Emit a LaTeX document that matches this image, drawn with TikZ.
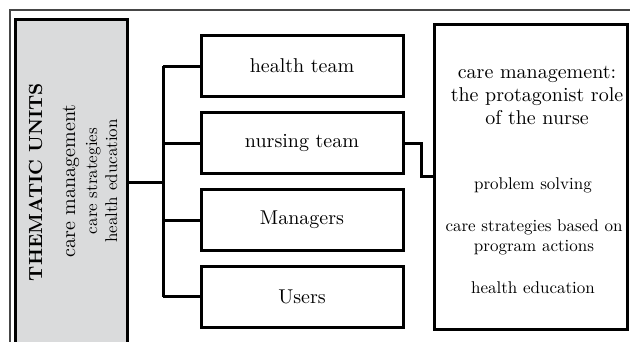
\documentclass[tikz,border=0pt]{standalone}
\usepackage{fontspec}
\setmainfont{lmroman10-regular.otf}[BoldFont=lmroman10-bold.otf]
\definecolor{boxgray}{RGB}{218,219,220}
\definecolor{framegray}{RGB}{70,70,70}
\tikzset{
  thick box/.style={draw=black, line width=3pt, inner sep=0pt},
  midbox/.style={thick box, minimum width=202, minimum height=61, font=\fontsize{20}{24}\selectfont},
  conn/.style={draw=black, line width=3pt},
  bigtxt/.style={inner sep=0pt, font=\fontsize{20}{23}\selectfont, align=center},
  smalltxt/.style={inner sep=0pt, font=\fontsize{17}{20}\selectfont, align=center},
}
\begin{document}
\begin{tikzpicture}[x=1pt,y=-1pt]
\useasboundingbox (0,0) rectangle (630,341);
\clip (0,0) rectangle (630,341);
% outer frame
\draw[framegray, line width=1.2pt] (10,345) -- (10,10) -- (632,10);
% thematic units box
\node[thick box, fill=boxgray, minimum width=112, minimum height=326] (tu) at (71,182) {};
\node[rotate=90, anchor=base, inner sep=0pt, font=\fontsize{19}{22}\selectfont\bfseries] (t1) at (42,182) {THEMATIC UNITS};
\node[rotate=90, anchor=base, inner sep=0pt, font=\fontsize{20}{24}\selectfont] (t2) at (75,181) {care management};
\node[rotate=90, anchor=base, inner sep=0pt, font=\fontsize{17}{20}\selectfont] (t3) at (97,181) {care strategies};
\node[rotate=90, anchor=base, inner sep=0pt, font=\fontsize{17}{20}\selectfont] (t4) at (117,181) {health education};
% middle boxes
\node[midbox] (b1) at (302,66) {health team};
\node[midbox] (b2) at (302,143) {nursing team};
\node[midbox] (b3) at (302,220) {Managers};
\node[midbox] (b4) at (302,296.5) {Users};
% right box
\node[thick box, minimum width=193, minimum height=305] (rb) at (530.5,176.5) {};
\node[bigtxt] (r1) at (537,95) {care management:\\the protagonist role\\of the nurse};
\node[smalltxt] (r2) at (533,185) {problem solving};
\node[smalltxt] (r3) at (534,237) {care strategies based on\\program actions};
\node[smalltxt] (r4) at (533,288) {health education};
% connectors
\coordinate (J) at (163,182);
\draw[conn] (tu.east) -- (J);
\draw[conn] (J |- b1.west) -- (J |- b4.west);
\draw[conn] (J |- b1.west) -- (b1.west);
\draw[conn] (J |- b2.west) -- (b2.west);
\draw[conn] (J |- b3.west) -- (b3.west);
\draw[conn] (J |- b4.west) -- (b4.west);
\draw[conn] (b2.east) -- ++(17,0) |- (rb.west);
\end{tikzpicture}
\end{document}
